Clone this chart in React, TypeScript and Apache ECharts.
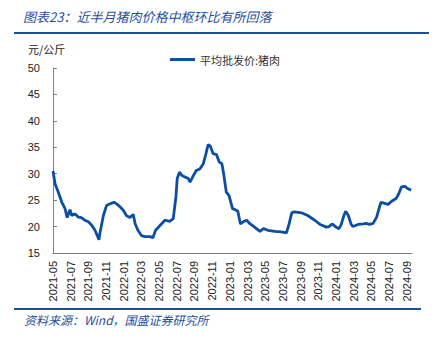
import React, { useEffect, useRef } from "react";
import * as echarts from "echarts";

// month offsets from 2021-05 (0 = 2021-05, 40 = 2024-09)
const monthOffsets = [
  0, 0.23, 0.6, 1.0, 1.36, 1.6, 1.92, 2.1, 2.5, 2.86, 3.2, 3.6, 4.0, 4.4, 4.75, 5.2, 5.3, 5.7,
  6.06, 6.44, 6.9, 7.2, 7.6, 7.95, 8.3, 8.7, 9.07, 9.3, 9.6, 10.0, 10.4, 10.96, 11.3, 11.6,
  12.1, 12.66, 13.2, 13.6, 13.9, 14.05, 14.3, 14.55, 14.9, 15.3, 15.5, 15.8, 16.2, 16.6, 17.0,
  17.3, 17.55, 17.8, 18.1, 18.5, 18.8, 19.1, 19.3, 19.6, 19.9, 20.3, 20.6, 20.9, 21.2, 21.5,
  21.9, 22.3, 22.8, 23.4, 23.8, 24.3, 25.1, 25.8, 26.4, 26.7, 27.0, 27.3, 28.1, 28.8, 29.6,
  30.2, 30.5, 30.9, 31.2, 31.6, 32.0, 32.35, 32.6, 32.9, 33.1, 33.4, 33.7, 33.9, 34.5, 35.1,
  35.4, 35.8, 36.2, 36.6, 36.9, 37.1, 37.5, 37.9, 38.3, 38.8, 39.1, 39.4, 39.8, 40.1, 40.5,
];
const prices = [
  30.5, 28.1, 26.5, 24.6, 23.4, 21.7, 23.2, 22.1, 22.4, 21.8, 21.7, 21.2, 20.9, 20.2, 19.3, 17.5, 18.7, 22.1,
  24.0, 24.3, 24.6, 24.3, 23.7, 23.1, 22.1, 21.7, 22.3, 20.5, 19.3, 18.3, 18.1, 18.1, 17.9, 19.3,
  20.2, 21.2, 21.0, 21.5, 25.6, 29.1, 30.3, 29.7, 29.4, 29.1, 28.4, 29.4, 30.6, 30.9, 31.9,
  33.8, 35.5, 35.2, 33.8, 33.6, 32.2, 31.9, 30.0, 26.5, 25.9, 23.4, 23.2, 22.9, 20.5, 20.9,
  21.2, 20.5, 19.9, 19.1, 19.6, 19.3, 19.1, 19.0, 18.8, 20.5, 22.6, 22.8, 22.6, 22.1, 21.2,
  20.4, 20.2, 19.9, 20.0, 20.5, 19.9, 19.6, 20.4, 22.1, 22.9, 22.1, 20.5, 20.0, 20.4, 20.5,
  20.6, 20.4, 20.6, 21.8, 23.6, 24.6, 24.4, 24.2, 24.8, 25.3, 26.2, 27.5, 27.6, 27.2, 26.9,
];
const seriesName = "平均批发价:猪肉";
const titleText = "图表23：近半月猪肉价格中枢环比有所回落";
const unitText = "元/公斤";
const sourceText = "资料来源：Wind，国盛证券研究所";
const yTicks = { min: 15, max: 50, interval: 5 };
const startYear = 2021;
const startMonth = 5;

const BLUE = "#1f4e9e";
const LINE = "#0b4ea2";

function offsetToLabel(v: number): string {
  const total = startMonth - 1 + Math.round(v);
  const y = startYear + Math.floor(total / 12);
  const m = (total % 12) + 1;
  return `${y}-${m < 10 ? "0" + m : m}`;
}

export default function App() {
  const ref = useRef<HTMLDivElement>(null);
  useEffect(() => {
    if (!ref.current) return;
    const chart = echarts.init(ref.current, undefined, { renderer: "svg" });
    const data = monthOffsets.map((x, i) => [x, prices[i]]);
    chart.setOption({
      animation: false,
      backgroundColor: "#ffffff",
      textStyle: { fontFamily: "'Liberation Sans', Arial, sans-serif" },
      grid: { left: 53, right: 26, top: 68, bottom: 85, containLabel: false },
      legend: {
        left: 165,
        top: 49,
        itemWidth: 25,
        itemHeight: 3,
        itemGap: 3,
        icon: "rect",
        data: [seriesName],
        textStyle: {
          fontSize: 11,
          color: "#333",
          fontFamily: "'Noto Sans CJK SC', sans-serif",
        },
      },
      xAxis: {
        type: "value",
        min: 0,
        max: 40.6,
        interval: 2,
        splitLine: { show: false },
        axisLine: { show: true, lineStyle: { color: "#808080", width: 1 } },
        axisTick: { show: false },
        axisLabel: {
          rotate: 90,
          fontSize: 11,
          color: "#222",
          margin: 8,
          showMaxLabel: false,
          formatter: (v: number) => offsetToLabel(v),
        },
      },
      yAxis: {
        type: "value",
        min: yTicks.min,
        max: yTicks.max,
        interval: yTicks.interval,
        splitLine: { show: false },
        axisLine: { show: true, lineStyle: { color: "#808080", width: 1 } },
        axisTick: { show: true, inside: true, length: 4, lineStyle: { color: "#808080" } },
        axisLabel: { fontSize: 11, color: "#222", margin: 13 },
      },
      series: [
        {
          name: seriesName,
          type: "line",
          data,
          showSymbol: false,
          symbol: "none",
          lineStyle: { color: LINE, width: 2.8 },
          itemStyle: { color: LINE },
        },
      ],
      graphic: [
        {
          type: "text",
          left: 23,
          top: 10,
          style: {
            text: titleText,
            fill: BLUE,
            fontSize: 13,
            fontStyle: "italic",
            fontFamily: "'Noto Sans CJK SC', sans-serif",
          },
        },
        {
          type: "line",
          shape: { x1: 14, y1: 33, x2: 429, y2: 33 },
          style: { stroke: BLUE, lineWidth: 2 },
        },
        {
          type: "text",
          left: 28,
          top: 43,
          style: {
            text: unitText,
            fill: "#222",
            fontSize: 11,
            fontFamily: "'Noto Sans CJK SC', sans-serif",
          },
        },
        {
          type: "line",
          shape: { x1: 14, y1: 309, x2: 421, y2: 309 },
          style: { stroke: BLUE, lineWidth: 2 },
        },
        {
          type: "text",
          left: 24,
          top: 313,
          style: {
            text: sourceText,
            fill: BLUE,
            fontSize: 12,
            fontStyle: "italic",
            fontFamily: "'Noto Sans CJK SC', sans-serif",
          },
        },
      ],
    });
    return () => chart.dispose();
  }, []);
  return (
    <div
      ref={ref}
      style={{ position: "absolute", left: 0, top: 0, width: 438, height: 338 }}
    />
  );
}
